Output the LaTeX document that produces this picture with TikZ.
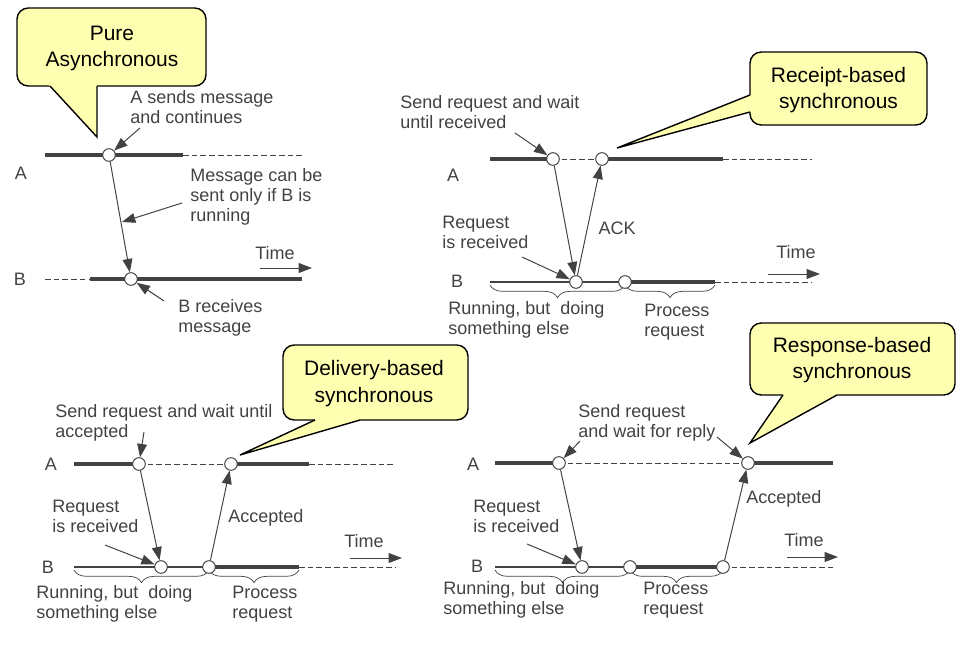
\documentclass[tikz,border=0pt]{standalone}
\usepackage{fontspec}
\setmainfont{Liberation Sans}
\usetikzlibrary{arrows.meta,decorations.pathreplacing}
\definecolor{ink}{RGB}{66,66,66}
\definecolor{callyellow}{RGB}{255,255,178}
\begin{document}
\begin{tikzpicture}[x=0.025cm, y=-0.025cm,
    line on/.style={ink, line width=2.4pt},
    line run/.style={ink, line width=1.2pt},
    line off/.style={ink, line width=0.6pt, dash pattern=on 4pt off 2.2pt},
    msg/.style={ink, line width=0.7pt, -{Triangle[length=9.5pt,width=7pt]}},
    evt/.style={circle, draw=ink, fill=white, line width=0.7pt, minimum size=9pt, inner sep=0pt},
    lbl/.style={text=ink, font=\fontsize{12.8}{14.2}\selectfont, align=left, anchor=west, inner sep=0pt},
    who/.style={text=ink, font=\fontsize{12.8}{14.2}\selectfont, inner sep=0pt},
    brc/.style={ink, line width=0.5pt, decorate, decoration={brace, mirror, amplitude=9pt}},
    callbox/.style={draw=black, fill=callyellow, line width=1pt, rounded corners=8pt},
    calledge/.style={draw=black, line width=1pt, line join=miter},
    calltxt/.style={font=\fontsize{14.9}{18.8}\selectfont, align=center, inner sep=0pt}]

    \useasboundingbox (0, 0) rectangle (966, 645);

        %%P1 pure asynchronous
        \draw[callbox](17, 8) rectangle (206, 86);
        \fill[callyellow](47, 84) -- (50, 86) -- (97, 137) -- (97, 84) -- cycle;
        \draw[calledge](50, 86) to (97, 137) to (97, 86);
        \node[calltxt] (pure) at(112, 48.5){Pure\\Asynchronous};

        \draw[line on](45, 155) to (183, 155);
            \draw[line off](183, 155) to (302, 155);
        \draw[line off](45, 279) to (90, 279);
            \draw[line on](90, 279) to (302, 279);
        \node[who] (p1A) at(21, 173){A};
        \node[who] (p1B) at(20, 279){B};
        \node[evt] (p1a) at(109, 155){};
        \node[evt] (p1b) at(131, 279){};
            \draw[msg](p1a) to (p1b);

        \node[lbl] (p1snd) at(130, 107){A sends message\\and continues};
        \coordinate (p1s) at(140, 128);
            \draw[msg](p1s) to (p1a);
        \node[lbl] (p1only) at(190, 197){Message can be\\sent only if B is\\running};
        \coordinate (p1o) at(182, 203);
        \coordinate (p1m) at(122, 222);
            \draw[msg](p1o) to (p1m);
        \node[lbl] (p1rcv) at(178, 318){B receives\\message};
        \coordinate (p1r) at(164, 301);
            \draw[msg](p1r) to (p1b);
        \node[who] (p1time) at(275, 253){Time};
        \coordinate (p1t0) at(260, 268);
        \coordinate (p1t1) at(312, 268);
            \draw[msg](p1t0) to (p1t1);

        %%P2 receipt-based
        \draw[callbox](750, 52) rectangle (927, 125);
        \fill[callyellow](752, 95) -- (750, 95) -- (617, 148) -- (750, 112) -- (752, 112) -- cycle;
        \draw[calledge](750, 95) to (617, 148) to (750, 112);
        \node[calltxt] (rcpt) at(838.5, 90){Receipt-based\\synchronous};

        \draw[line on](490, 159) to (553, 159);
            \draw[line off](553, 159) to (602, 159);
        \draw[line on](602, 159) to (723, 159);
            \draw[line off](723, 159) to (812, 159);
        \draw[line run](490, 282) to (625, 282);
            \draw[line on](625, 282) to (715, 282);
        \draw[line off](715, 282) to (812, 282);
        \draw[brc](490, 285) to (625, 285);
        \draw[brc](625, 285) to (715, 285);
        \node[who] (p2A) at(453, 175){A};
        \node[who] (p2B) at(457, 281){B};
        \node[evt] (p2a1) at(553, 159){};
        \node[evt] (p2a2) at(602, 159){};
        \node[evt] (p2b1) at(576, 282){};
        \node[evt] (p2b2) at(625, 282){};
            \draw[msg](p2a1) to (p2b1);
            \draw[msg](p2b1) to (p2a2);
        \node[who] (p2ack) at(617, 228){ACK};

        \node[lbl] (p2snd) at(400, 112){Send request and wait\\until received};
        \coordinate (p2s) at(515, 133);
            \draw[msg](p2s) to (p2a1);
        \node[lbl] (p2req) at(442, 232){Request\\is received};
        \coordinate (p2q) at(522, 257);
            \draw[msg](p2q) to (p2b1);
        \node[lbl] (p2run) at(448, 320){Running, but\ \ doing\\something else};
        \node[lbl] (p2proc) at(644, 322){Process\\request};
        \node[who] (p2time) at(796, 252){Time};
        \coordinate (p2t0) at(768, 274);
        \coordinate (p2t1) at(820, 274);
            \draw[msg](p2t0) to (p2t1);

        %%P3 delivery-based
        \draw[callbox](283, 345) rectangle (468, 420);
        \fill[callyellow](315, 418) -- (315, 420) -- (240, 455) -- (360, 420) -- (360, 418) -- cycle;
        \draw[calledge](315, 420) to (240, 455) to (360, 420);
        \node[calltxt] (dlvr) at(374, 383.5){Delivery-based\\synchronous};

        \draw[line on](74, 464) to (139, 464);
            \draw[line off](139, 464) to (231, 464);
        \draw[line on](231, 464) to (309, 464);
            \draw[line off](309, 464) to (395, 464);
        \draw[line run](74, 567) to (209, 567);
            \draw[line on](209, 567) to (299, 567);
        \draw[line off](299, 567) to (395, 567);
        \draw[brc](74, 570) to (209, 570);
        \draw[brc](209, 570) to (299, 570);
        \node[who] (p3A) at(51, 464){A};
        \node[who] (p3B) at(48, 567){B};
        \node[evt] (p3a1) at(139, 464){};
        \node[evt] (p3a2) at(231, 464){};
        \node[evt] (p3b1) at(161, 567){};
        \node[evt] (p3b2) at(209, 567){};
            \draw[msg](p3a1) to (p3b1);
            \draw[msg](p3b2) to (p3a2);
        \node[lbl] (p3acc) at(228, 518){Accepted};

        \node[lbl] (p3snd) at(55, 423){Send request and wait until\\accepted};
        \coordinate (p3s) at(144, 432);
            \draw[msg](p3s) to (p3a1);
        \node[lbl] (p3req) at(52, 516){Request\\is received};
        \coordinate (p3q) at(105, 545);
            \draw[msg](p3q) to (p3b1);
        \node[lbl] (p3run) at(36, 604){Running, but\ \ doing\\something else};
        \node[lbl] (p3proc) at(232, 604){Process\\request};
        \node[who] (p3time) at(364, 541){Time};
        \coordinate (p3t0) at(350, 558);
        \coordinate (p3t1) at(402, 558);
            \draw[msg](p3t0) to (p3t1);

        %%P4 response-based
        \draw[callbox](750, 323) rectangle (955, 395);
        \fill[callyellow](783, 393) -- (783, 395) -- (750, 443) -- (837, 395) -- (837, 393) -- cycle;
        \draw[calledge](783, 395) to (750, 443) to (837, 395);
        \node[calltxt] (resp) at(852, 360){Response-based\\synchronous};

        \draw[line on](495, 463) to (559, 463);
            \draw[line off](559, 463) to (748, 463);
        \draw[line on](748, 463) to (833, 463);
        \draw[line run](495, 567) to (630, 567);
            \draw[line on](630, 567) to (723, 567);
        \draw[line off](723, 567) to (833, 567);
        \draw[brc](495, 570) to (630, 570);
        \draw[brc](630, 570) to (723, 570);
        \node[who] (p4A) at(473, 464){A};
        \node[who] (p4B) at(477, 566){B};
        \node[evt] (p4a1) at(559, 463){};
        \node[evt] (p4a2) at(748, 463){};
        \node[evt] (p4b1) at(582, 567){};
        \node[evt] (p4b2) at(630, 567){};
        \node[evt] (p4b3) at(723, 567){};
            \draw[msg](p4a1) to (p4b1);
            \draw[msg](p4b3) to (p4a2);
        \node[lbl] (p4acc) at(746, 499){Accepted};

        \node[lbl] (p4snd) at(578, 423){Send request\\and wait for reply};
        \coordinate (p4s1) at(580, 441);
            \draw[msg](p4s1) to (p4a1);
        \coordinate (p4s2) at(717, 437);
            \draw[msg](p4s2) to (p4a2);
        \node[lbl] (p4req) at(473, 516){Request\\is received};
        \coordinate (p4q) at(527, 544);
            \draw[msg](p4q) to (p4b1);
        \node[lbl] (p4run) at(443, 600){Running, but\ \ doing\\something else};
        \node[lbl] (p4proc) at(643, 600){Process\\request};
        \node[who] (p4time) at(804, 540){Time};
        \coordinate (p4t0) at(787, 557);
        \coordinate (p4t1) at(838, 557);
            \draw[msg](p4t0) to (p4t1);

    \end{tikzpicture}
\end{document}
